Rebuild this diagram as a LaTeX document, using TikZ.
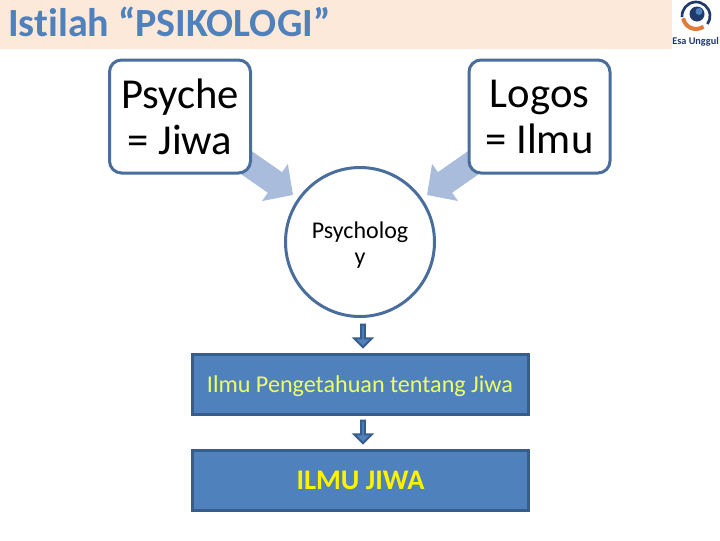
\documentclass[tikz,border=0pt]{standalone}
\usepackage{fontspec}
\setmainfont[Ligatures=NoCommon]{Carlito}
\usetikzlibrary{arrows.meta,shapes.arrows,backgrounds}
\definecolor{band}{HTML}{FDE9D9}
\definecolor{titleblue}{HTML}{4F81BD}
\definecolor{edgeblue}{HTML}{4A6E9C}
\definecolor{bigarrow}{HTML}{A9BCDB}
\definecolor{boxfill}{HTML}{4F81BD}
\definecolor{boxedge}{HTML}{385D8A}
\definecolor{softyellow}{HTML}{EEFF66}
\definecolor{logonavy}{HTML}{1F3A6B}
\definecolor{logoorange}{HTML}{E07B3A}
\tikzset{
  termbox/.style={draw=edgeblue,fill=white,line width=2.25pt,rounded corners=9pt,
    minimum width=105.75pt,minimum height=84.75pt,inner sep=0pt,align=center,
    font=\fontsize{32pt}{34.5pt}\selectfont},
  roundnode/.style={circle,draw=edgeblue,fill=white,line width=2.25pt,
    minimum size=111.75pt,inner sep=0pt},
  roundtext/.style={inner sep=0pt,align=center,font=\fontsize{18pt}{20pt}\selectfont},
  bluebox/.style={rectangle,draw=boxedge,fill=boxfill,line width=2.25pt,
    minimum width=252pt,minimum height=45pt,inner sep=0pt,align=center},
  bigflow/.style={bigarrow,line width=18.75pt,-{Triangle[length=16.5pt,width=33pt]}},
  smallflow/.style={shape=single arrow,draw=boxedge,fill=boxfill,line width=1.5pt,
    minimum height=17pt,minimum width=13.5pt,inner sep=0pt,
    single arrow head extend=2.75pt,shape border rotate=270}
}
\begin{document}
\begin{tikzpicture}[x=0.75pt,y=-0.75pt]
\useasboundingbox (0,0) rectangle (720,540);
\fill[band] (0,0) rectangle (720,48.5);
\fill[white] (672,0) rectangle (720,48.5);
\node[anchor=base west,inner sep=0pt,text=titleblue,font=\fontsize{30pt}{34pt}\selectfont\bfseries] (title) at (8,36) {Istilah “PSIKOLOGI”};
% logo
\draw[line width=2pt,color=logonavy] ([shift={(696,16)}]175:14) arc (175:395:14);
\draw[line width=3pt,color=logoorange] ([shift={(696,16)}]55:13) arc (55:170:13);
\fill[color=logonavy] (697,14) circle (7.5);
\fill[color=titleblue] (699,11.5) circle (3.5);
\node[anchor=base west,inner sep=0pt,text=logonavy,font=\fontsize{7.7pt}{10pt}\selectfont\bfseries] (logotext) at (672,44.5) {Esa Unggul};
% main nodes
\node[termbox] (psyche) at (180,116.5) {Psyche\\= Jiwa};
\node[termbox] (logos) at (539.5,116.5) {Logos\\= Ilmu};
\node[roundnode] (psy) at (360,242) {};
\node[roundtext] (psylabel) at (360,245) {Psycholog\\y};
\node[bluebox] (know) at (360.5,384.5) {};
\node[inner sep=0pt,font=\fontsize{18.1pt}{20pt}\selectfont,text=softyellow] (knowlabel) at (360,386.5) {Ilmu Pengetahuan tentang Jiwa};
\node[bluebox,font=\fontsize{21.3pt}{23pt}\selectfont\bfseries,text=yellow] (ilmu) at (360.5,480.5) {ILMU JIWA};
\node[smallflow] (down1) at (363,335) {};
\node[smallflow] (down2) at (363,431) {};
\coordinate (tipL) at (293,195);
\coordinate (tipR) at (427,195);
\begin{scope}[on background layer]
\draw[bigflow] (psyche.center) -- (tipL);
\draw[bigflow] (logos.center) -- (tipR);
\end{scope}
\end{tikzpicture}
\end{document}
